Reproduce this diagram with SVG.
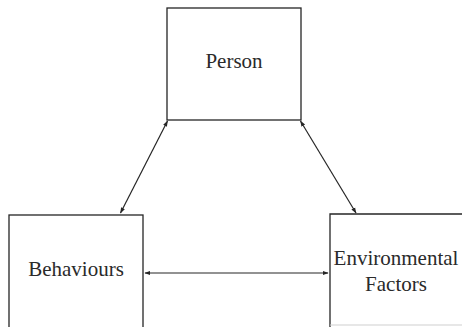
<svg xmlns="http://www.w3.org/2000/svg" width="462" height="327" viewBox="0 0 462 327">
<style>
.box{fill:none;stroke:#262626;stroke-width:1.3}
.lbl{font-family:"Liberation Serif","Times New Roman",serif;font-size:21px;fill:#2a2a2a;text-anchor:middle}
.conn{stroke:#262626;stroke-width:1.2;fill:none;marker-start:url(#ah);marker-end:url(#ah)}
</style>
<defs>
<marker id="ah" viewBox="0 0 10 10" refX="9" refY="5" markerWidth="6" markerHeight="6" orient="auto-start-reverse" markerUnits="userSpaceOnUse">
<path d="M0,1.5 L10,5 L0,8.5 Z" fill="#262626"/>
</marker>
</defs>
<rect width="462" height="327" fill="#fff"/>
<g id="person">
<rect class="box" x="167" y="8" width="134" height="112"/>
<text class="lbl" x="234" y="68">Person</text>
</g>
<g id="behaviours">
<rect class="box" x="9" y="215" width="134" height="130"/>
<text class="lbl" x="76" y="276">Behaviours</text>
</g>
<g id="environmental">
<path class="box" d="M330,330 V214 H470"/>
<line x1="330" y1="325" x2="462" y2="325" stroke="#cfcfcf" stroke-width="1"/>
<text class="lbl" x="396" y="265">Environmental</text>
<text class="lbl" x="396" y="291">Factors</text>
</g>
<g id="connectors">
<line class="conn" x1="167.5" y1="121" x2="120.5" y2="213"/>
<line class="conn" x1="300.5" y1="121" x2="356" y2="213"/>
<line class="conn" x1="145" y1="273" x2="328" y2="273"/>
</g>
</svg>
